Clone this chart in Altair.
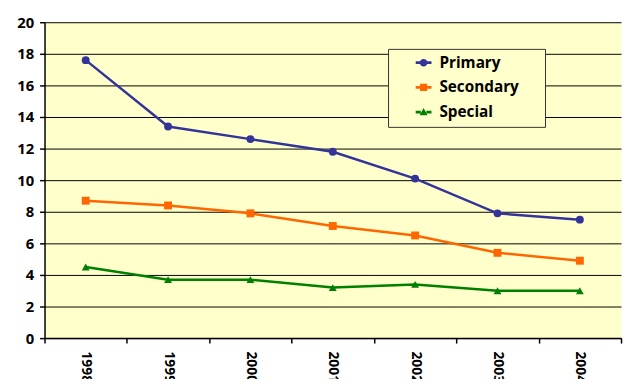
import altair as alt
import pandas as pd

years = ["1998", "1999", "2000", "2001", "2002", "2003", "2004"]
primary = [17.6, 13.4, 12.6, 11.8, 10.1, 7.9, 7.5]
secondary = [8.7, 8.4, 7.9, 7.1, 6.5, 5.4, 4.9]
special = [4.5, 3.7, 3.7, 3.2, 3.4, 3.0, 3.0]
series_names = ["Primary", "Secondary", "Special"]
series_colors = ["#333399", "#FF6600", "#008000"]
marker_shapes = ["circle", "square", "triangle-up"]
y_ticks = list(range(0, 21, 2))

# legend symbols: line segment + marker
seg = "M-1,-0.17H-0.35V0.17H-1Z M0.35,-0.17H1V0.17H0.35Z "
legend_paths = [
    seg + "M-0.48,0A0.48,0.48 0 1,1 0.48,0A0.48,0.48 0 1,1 -0.48,0Z",
    seg + "M-0.45,-0.45H0.45V0.45H-0.45Z",
    seg + "M0,-0.5L0.5,0.4L-0.5,0.4Z",
]

rows = []
for name, vals in zip(series_names, [primary, secondary, special]):
    for yr, v in zip(years, vals):
        rows.append({"year": yr, "series": name, "value": v})
df = pd.DataFrame(rows)

FONT = "Open Sans"
color_scale = alt.Scale(domain=series_names, range=series_colors)

x_enc = alt.X(
    "year:O",
    sort=years,
    scale=alt.Scale(type="band", paddingInner=0, paddingOuter=0),
    axis=alt.Axis(
        title=None, labelAngle=90, tickBand="extent", tickSize=5,
        labelPadding=8, labelFont=FONT, labelFontSize=14, labelFontWeight="bold",
        labelColor="black", domainColor="black", domainWidth=1.5,
        tickColor="black", tickWidth=1.5, grid=False,
    ),
)
y_enc = alt.Y(
    "value:Q",
    scale=alt.Scale(domain=[0, 20], nice=False, zero=True),
    axis=alt.Axis(
        title=None, values=y_ticks, tickSize=5, labelPadding=6,
        labelFont=FONT, labelFontSize=15, labelFontWeight="bold", labelColor="black",
        domainColor="black", domainWidth=1.5, tickColor="black", tickWidth=1.5,
        grid=True, gridColor="black", gridWidth=1,
    ),
)

base = alt.Chart(df)

leg = alt.Legend(
    title="\u00a0", titleOrient="right", titlePadding=21, titleFontSize=15,
    orient="none", legendX=348, legendY=27,
    fillColor="#FFFFCC", strokeColor="#333333", padding=6,
    symbolSize=256, symbolStrokeWidth=0, symbolOffset=22, labelOffset=8,
    rowPadding=8, labelFont=FONT, labelFontSize=15.5, labelFontWeight="bold",
    labelColor="black", symbolOpacity=1,
)

legend_layer = base.mark_point(filled=True, opacity=0).encode(
    x=x_enc, y=y_enc,
    color=alt.Color("series:N", scale=color_scale, legend=leg),
    shape=alt.Shape("series:N", scale=alt.Scale(domain=series_names, range=legend_paths), legend=leg),
)

lines = base.mark_line(strokeWidth=2.5).encode(
    x=x_enc, y=y_enc,
    color=alt.Color("series:N", scale=color_scale),
)

point_layers = []
for name, shp in zip(series_names, marker_shapes):
    point_layers.append(
        base.transform_filter(alt.datum.series == name)
        .mark_point(filled=True, shape=shp, size=64, opacity=1)
        .encode(
            x=x_enc, y=y_enc,
            color=alt.Color("series:N", scale=color_scale),
        )
    )

chart = alt.layer(legend_layer, lines, *point_layers).properties(
    width=584, height=320,
    autosize=alt.AutoSizeParams(type="none"),
    padding={"left": 37, "top": 12, "right": 2, "bottom": 39},
    background="white",
).configure_view(fill="#FFFFCC", strokeWidth=0)

chart.save("out.html", embed_options={"renderer": "svg", "actions": False})
